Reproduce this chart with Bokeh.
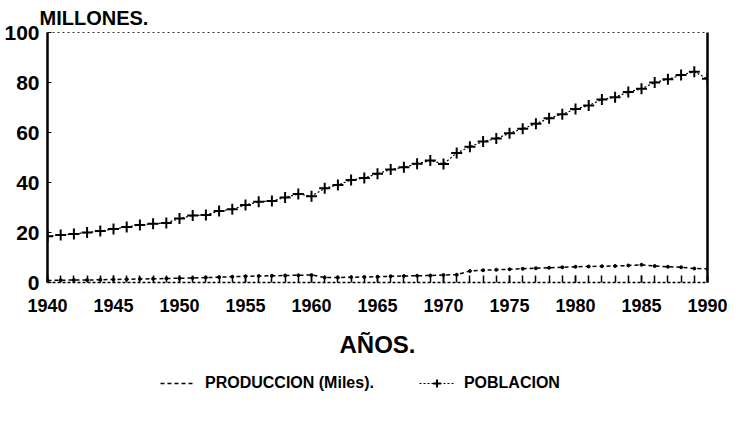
from bokeh.plotting import figure
from bokeh.layouts import column
from bokeh.models import (Range1d, LinearAxis, FixedTicker, Legend, LegendItem, Title)
from bokeh.embed import file_html
from bokeh.resources import INLINE

years = list(range(1940, 1991))
poblacion = [18.5, 19.0, 19.4, 20.0, 20.6, 21.4, 22.2, 23.0, 23.5, 23.8,
             25.6, 26.8, 27.0, 28.6, 29.3, 31.0, 32.3, 32.6, 34.0, 35.4,
             34.5, 37.7, 39.0, 41.0, 41.8, 43.5, 45.2, 46.1, 47.5, 48.8,
             47.4, 51.8, 54.3, 56.4, 57.6, 59.7, 61.5, 63.5, 65.7, 67.3,
             69.4, 70.8, 73.2, 74.1, 76.2, 77.5, 80.0, 81.3, 83.0, 84.3,
             81.5]
produccion = [0.8, 0.9, 1.0, 1.0, 1.1, 1.2, 1.3, 1.4, 1.5, 1.6,
              1.7, 1.8, 2.0, 2.1, 2.3, 2.5, 2.6, 2.7, 2.8, 2.9,
              3.0, 2.0, 2.0, 2.1, 2.2, 2.3, 2.5, 2.6, 2.7, 2.8,
              3.0, 3.1, 4.6, 4.9, 5.1, 5.3, 5.5, 5.7, 5.9, 6.1,
              6.3, 6.4, 6.5, 6.6, 6.8, 7.1, 6.6, 6.3, 6.1, 5.6,
              5.5]
x_ticks = [1940, 1945, 1950, 1955, 1960, 1965, 1970, 1975, 1980, 1985, 1990]
y_ticks = [0, 20, 40, 60, 80, 100]
series_names = ["PRODUCCION (Miles).", "POBLACION"]

FONT = "Liberation Sans"

p = figure(frame_width=660, frame_height=250,
           x_range=Range1d(1940, 1990), y_range=Range1d(0, 100),
           output_backend="svg", toolbar_location=None,
           min_border_left=47, min_border_right=20,
           min_border_top=0, min_border_bottom=0)
p.xgrid.visible = False
p.ygrid.visible = False
p.outline_line_color = None
p.background_fill_color = "white"
p.border_fill_color = "white"

# bottom axis
xa = p.xaxis[0]
xa.ticker = FixedTicker(ticks=x_ticks, minor_ticks=years)
xa.axis_line_dash = "3 2"
xa.axis_line_width = 1.5
xa.major_tick_in = 7
xa.major_tick_out = 0
xa.minor_tick_in = 7
xa.minor_tick_out = 0
xa.major_tick_line_width = 1.5
xa.minor_tick_line_width = 1.5
xa.major_label_text_font = FONT
xa.major_label_text_font_style = "bold"
xa.major_label_text_font_size = "18px"
xa.major_label_text_color = "black"
xa.major_label_standoff = 16
xa.axis_label = "AÑOS."
xa.axis_label_text_font = FONT
xa.axis_label_text_font_style = "bold"
xa.axis_label_text_font_size = "24px"
xa.axis_label_text_color = "black"
xa.axis_label_standoff = 16

# left axis
ya = p.yaxis[0]
ya.ticker = FixedTicker(ticks=y_ticks)
ya.axis_line_width = 2.5
ya.major_tick_in = 4
ya.major_tick_out = 0
ya.minor_tick_line_color = None
ya.major_label_text_font = FONT
ya.major_label_text_font_style = "bold"
ya.major_label_text_font_size = "21px"
ya.major_label_text_color = "black"
ya.major_label_standoff = 8

# right solid border
ra = LinearAxis(ticker=FixedTicker(ticks=[]), axis_line_width=2.5,
                major_tick_line_color=None, minor_tick_line_color=None,
                major_label_text_font_size="0px")
p.add_layout(ra, "right")

# top dotted border
ta = LinearAxis(ticker=FixedTicker(ticks=[]), axis_line_width=1,
                axis_line_dash="2 3", axis_line_color="#333333",
                major_tick_line_color=None, minor_tick_line_color=None,
                major_label_text_font_size="0px")
p.add_layout(ta, "above")

p.add_layout(Title(text="MILLONES.", align="left", offset=-8,
                   text_font=FONT, text_font_style="bold", text_font_size="20px",
                   text_color="black", standoff=8), "above")

# series
p.line(years, produccion, line_color="black", line_width=1.5, line_dash="4 3")
p.scatter(years, produccion, marker="circle", size=3, color="black")
p.line(years, poblacion, line_color="black", line_width=1.2, line_dash="2 2")
p.scatter(years, poblacion, marker="cross", size=11, line_width=2, line_color="black")

# legend strip below the chart (its renderers lie outside this strip's view)
p2 = figure(width=727, height=45, output_backend="svg", toolbar_location=None,
            x_range=Range1d(0, 1), y_range=Range1d(0, 1),
            x_axis_location=None, y_axis_location=None, min_border=0)
p2.xgrid.visible = False
p2.ygrid.visible = False
p2.outline_line_color = None
l1 = p2.line(years, produccion, line_color="black", line_width=1.5, line_dash="4 3")
l2 = p2.line(years, poblacion, line_color="black", line_width=1.2, line_dash="2 2")
s2 = p2.scatter(years, poblacion, marker="cross", size=11, line_width=2, line_color="black")

legend = Legend(items=[LegendItem(label=series_names[0], renderers=[l1]),
                       LegendItem(label=series_names[1], renderers=[l2, s2])],
                orientation="horizontal", location=(113, 12), spacing=45,
                glyph_width=35, label_standoff=10, border_line_color=None,
                background_fill_alpha=0, label_text_font=FONT,
                label_text_font_style="bold", label_text_font_size="16px",
                label_text_color="black", margin=0, padding=0)
p2.add_layout(legend)

layout = column(p, p2, spacing=0)
open("out.html", "w").write(file_html(layout, INLINE))
